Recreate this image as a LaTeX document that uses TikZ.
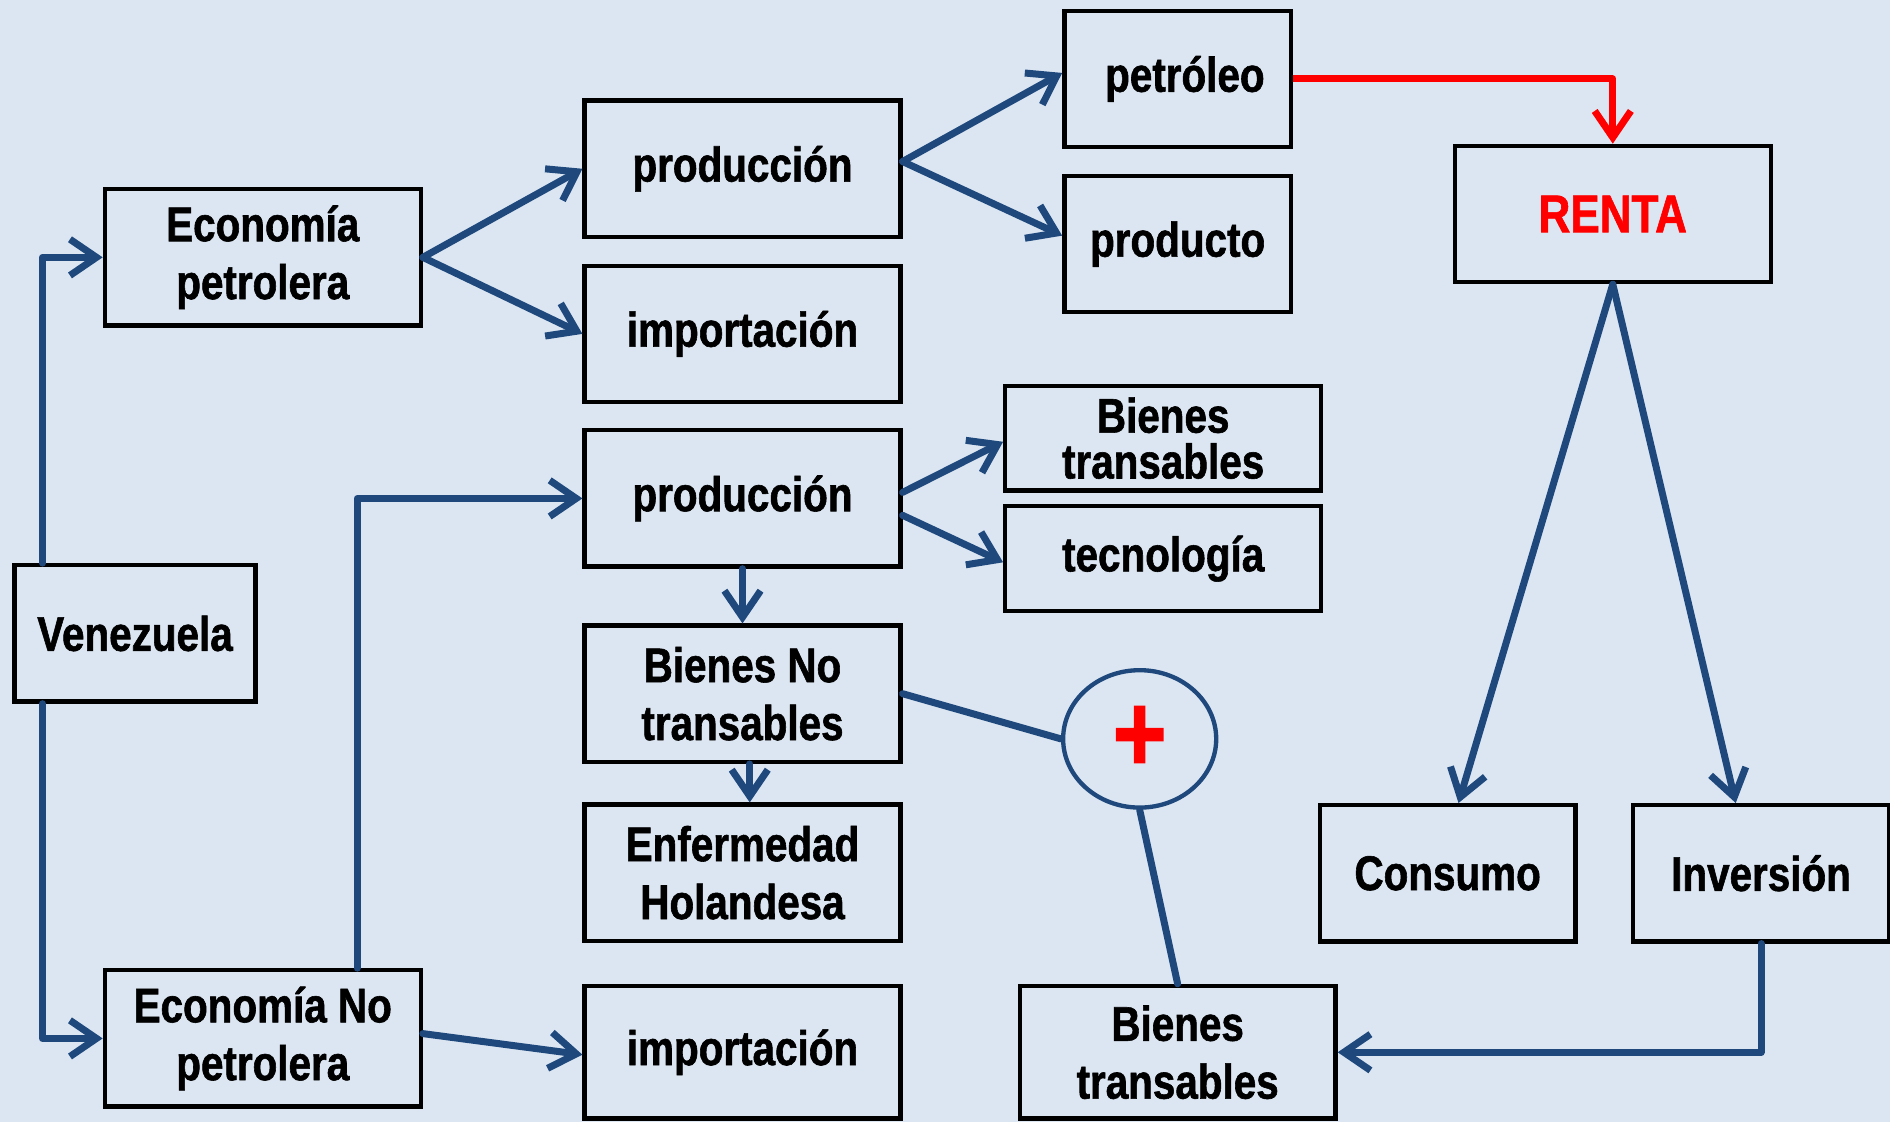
\documentclass[tikz,border=0pt]{standalone}
\usepackage{fontspec}
\setmainfont{Liberation Sans}[FakeStretch=0.83, BoldFeatures={FakeBold=1.2}]
\usetikzlibrary{arrows.meta,shapes.geometric}
\definecolor{bg}{RGB}{220,230,242}
\definecolor{navy}{RGB}{31,73,125}
\begin{document}
\begin{tikzpicture}[x=0.5pt,y=-0.5pt,
  box/.style={draw=black, line width=1.8pt, inner sep=0pt, align=center,
    font=\fontsize{20.2}{24}\selectfont\bfseries, text=black,
    minimum width=131pt, minimum height=56.5pt},
  tight/.style={font=\fontsize{20.2}{19}\selectfont\bfseries},
  conn/.style={draw=navy, line width=2.9pt, line cap=round, line join=round},
  arr/.style={conn, -{Straight Barb[length=11pt,width=15pt]}},
  redarr/.style={draw=red, line width=2.9pt, line join=round, -{Straight Barb[length=11pt,width=15pt]}},
]
\fill[bg] (0,0) rectangle (1568,931);
\useasboundingbox (0,0) rectangle (1568,931);

% nodes
\node[box, minimum width=100pt] (ven) at (112,525.5) {Venezuela};
\node[box] (ecop) at (218,213.5) {Economía\\petrolera};
\node[box] (econ) at (218,861.5) {Economía No\\petrolera};
\node[box] (prod1) at (616,140) {producción};
\node[box] (imp1) at (616,277) {importación};
\node[box] (prod2) at (616,413.5) {producción};
\node[box] (bnt) at (616,575.5) {Bienes No\\transables};
\node[box] (enf) at (616,724) {Enfermedad\\Holandesa};
\node[box, minimum height=55pt] (imp2) at (616,873) {importación};
\node[box, minimum width=94pt] (petrol) at (977,65.5) {\hspace{6pt}petróleo};
\node[box, minimum width=94pt] (prodto) at (977,202.5) {producto};
\node[box, tight, minimum height=43.5pt] (bt1) at (965,363.5) {Bienes\\transables};
\node[box, minimum height=43.5pt] (tec) at (965,463.5) {tecnología};
\node[box, minimum height=55pt] (bt2) at (977,873) {Bienes\\transables};
\node[box, text=red, font=\fontsize{22}{24}\selectfont\bfseries] (renta) at (1338,177.5) {RENTA};
\node[box, minimum width=106pt] (cons) at (1201,724.5) {Consumo};
\node[box, minimum width=106pt] (inv) at (1461,724.5) {Inversión};
\node[ellipse, draw=navy, line width=1.8pt, inner sep=0pt,
  minimum width=63.5pt, minimum height=57pt, text=red,
  font=\fontsize{46}{46}\selectfont\bfseries] (circ) at (945.5,613) {+};

% connectors
\draw[arr] ([xshift=12.5pt]ven.north west) |- (ecop.west);
\draw[arr] ([xshift=12.5pt]ven.south west) |- (econ.west);
\draw[arr] (ecop.east) -- (prod1.west);
\draw[arr] (ecop.east) -- (imp1.west);
\draw[arr] ([yshift=3pt]prod1.east) -- ([yshift=2.5pt]petrol.west);
\draw[arr] ([yshift=3pt]prod1.east) -- ([yshift=3.5pt]prodto.west);
\draw[redarr] (petrol.east) -| (renta.north);
\draw[arr] (renta.south) -- ([xshift=4.5pt]cons.north);
\draw[arr] (renta.south) -- ([xshift=-10.5pt]inv.north);
\draw[arr] ([xshift=105.5pt]econ.north west) |- (prod2.west);
\draw[arr] ([yshift=2pt]econ.east) -- ([yshift=-1pt]imp2.west);
\draw[arr] ([yshift=2.5pt]prod2.east) -- ([yshift=-1.5pt]bt1.west);
\draw[arr] ([yshift=-7pt]prod2.east) -- ([yshift=-1.5pt]tec.west);
\draw[arr] (prod2.south) -- (bnt.north);
\draw[arr] ([xshift=3pt]bnt.south) -- ([xshift=3pt]enf.north);
\draw[conn] ([yshift=0pt]bnt.east) -- (circ.west);
\draw[conn] (circ.south) -- (bt2.north);
\draw[arr] (inv.south) |- (bt2.east);
\end{tikzpicture}
\end{document}
